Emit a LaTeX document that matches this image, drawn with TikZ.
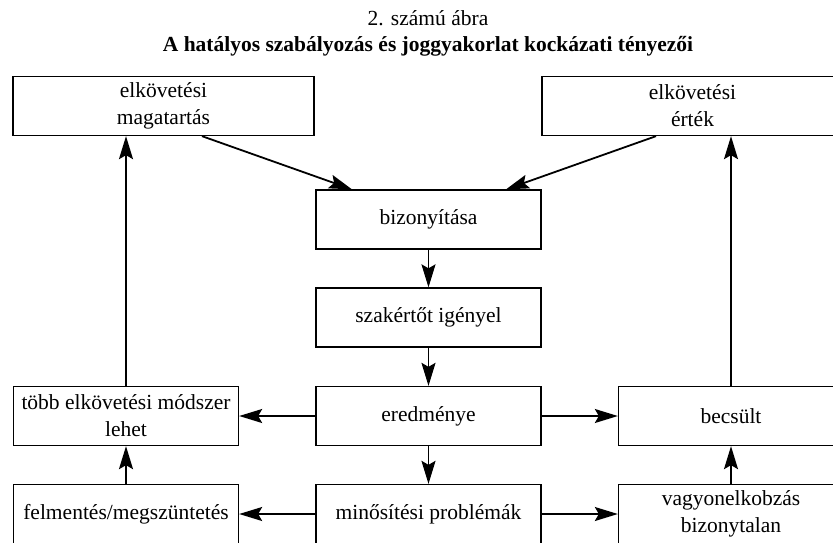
\documentclass[tikz,border=0pt]{standalone}
\usepackage{fontspec}
\setmainfont{Liberation Serif}
\usetikzlibrary{arrows.meta,calc}
\tikzset{
  box/.style={draw, line width=1.3pt, minimum height=59pt, align=center, inner sep=0pt,
    font=\fontsize{21.5}{27}\selectfont},
  narrow/.style={box, minimum width=225pt},
  wide/.style={box, minimum width=301pt},
  arr/.style={line width=1.8pt, -{Stealth[length=23pt,width=14pt,inset=4pt]}},
  ttl/.style={font=\fontsize{21.5}{27}\selectfont}
}
\begin{document}
\begin{tikzpicture}[x=1pt,y=-1pt]
\useasboundingbox (0,0) rectangle (833,542);
\node[ttl] (t1) at (428,18) {2. számú ábra};
\node[ttl,font=\fontsize{21.5}{27}\selectfont\bfseries] (t2) at (428,46) {A hatályos szabályozás és joggyakorlat kockázati tényezői};

\node[wide] (A) at (163.5,106) {elkövetési\\magatartás};
\node[wide] (B) at (692.5,106) {elkövetési\\érték};
\node[narrow] (C) at (428.5,219.5) {bizonyítása};
\node[narrow] (D) at (428.5,317.5) {szakértőt igényel};
\node[narrow] (E) at (428.5,416) {eredménye};
\node[narrow] (F) at (126,416) {több elkövetési módszer\\lehet};
\node[narrow] (G) at (731,416) {becsült};
\node[narrow] (H) at (126,514) {felmentés/megszüntetés};
\node[narrow] (I) at (428.5,514) {minősítési problémák};
\node[narrow] (J) at (731,514) {vagyonelkobzás\\bizonytalan};

\draw[arr] ([xshift=38.5pt]A.south) -- ([xshift=-76.5pt]C.north);
\draw[arr] ([xshift=-36.5pt]B.south) -- ([xshift=77.5pt]C.north);
\draw[arr] (C.south) -- (D.north);
\draw[arr] (D.south) -- (E.north);
\draw[arr] (E.south) -- (I.north);
\draw[arr] (E.west) -- (F.east);
\draw[arr] (E.east) -- (G.west);
\draw[arr] (I.west) -- (H.east);
\draw[arr] (I.east) -- (J.west);
\draw[arr] (H.north) -- (F.south);
\draw[arr] (J.north) -- (G.south);
\draw[arr] (F.north) -- (F.north |- A.south);
\draw[arr] (G.north) -- (G.north |- B.south);
\end{tikzpicture}
\end{document}
